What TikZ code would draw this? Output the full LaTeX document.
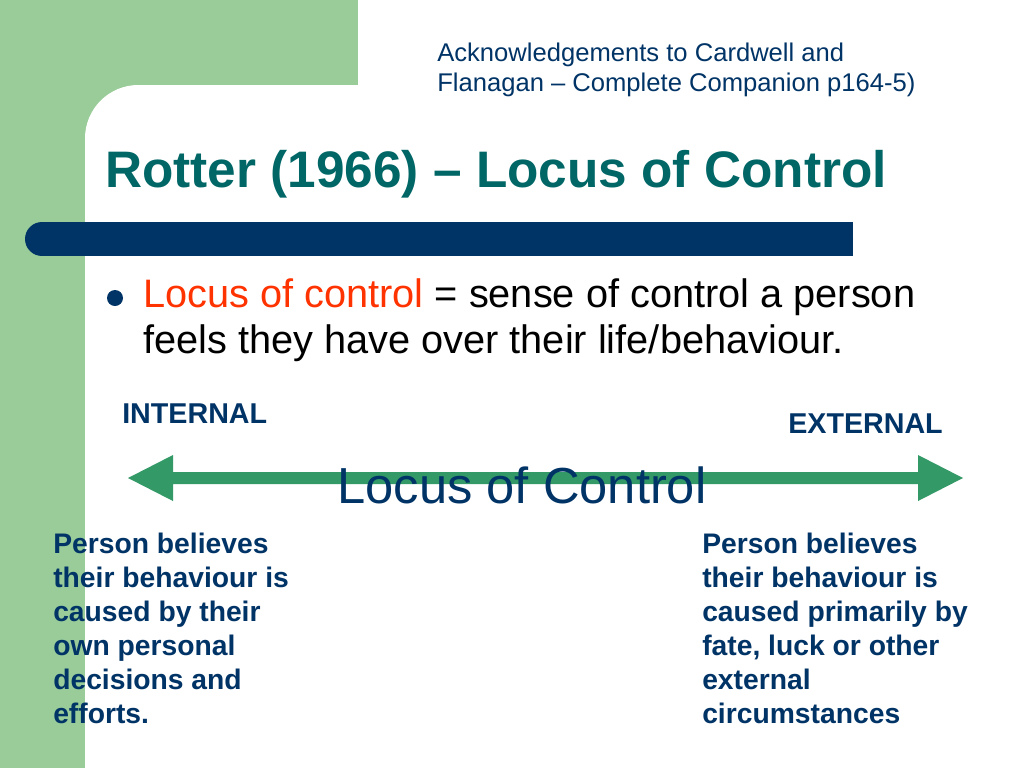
\documentclass[tikz,border=0pt]{standalone}
\usepackage{fontspec}
\setmainfont{Liberation Sans}
\definecolor{gstrip}{HTML}{99CC99}
\definecolor{navy}{HTML}{003366}
\definecolor{teal1}{HTML}{006666}
\definecolor{redo}{HTML}{FF3300}
\definecolor{arrowg}{HTML}{339966}
\begin{document}
\begin{tikzpicture}[x=0.75pt,y=-0.75pt,
  txt/.style={anchor=north west,inner sep=0pt,align=left},
  body/.style={txt,font=\fontsize{21.2}{25.5}\selectfont\bfseries,text=navy},
  lab/.style={txt,font=\fontsize{21.5}{24}\selectfont\bfseries,text=navy}]
\useasboundingbox (0,0) rectangle (1024,768);
\begin{scope}
\clip (0,0) rectangle (1024,768);
\fill[gstrip] (0,0) rectangle (358,768);
\fill[white,rounded corners=40] (85,85) rectangle (1100,820);
\end{scope}
\draw[navy,line width=25.5pt,line cap=round] (42,239) -- (836,239);
\fill[navy] (836,222) rectangle (853,256);
\node[txt,font=\fontsize{19.2}{22.5}\selectfont,text=navy] (ack) at (437,43) {Acknowledgements to Cardwell and\\Flanagan -- Complete Companion p164-5)};
\node[txt,font=\fontsize{38.5}{40}\selectfont\bfseries,text=teal1] (title) at (105,150) {Rotter (1966) -- Locus of Control};
\fill[navy] (115,298) circle (8);
\node[txt,font=\fontsize{29.8}{35}\selectfont] (bul) at (143,278) {\textcolor{redo}{Locus of control} = sense of control a person\\feels they have over their life/behaviour.};
\node[lab] (int) at (122,404) {INTERNAL};
\node[lab] (ext) at (788,414) {EXTERNAL};
\coordinate (al) at (128,478);
\coordinate (ar) at (963,478);
\fill[arrowg] (al) -- ++(45,-23) -- ++(0,17) -- (918,472) -- (918,455) -- (ar) -- (918,501) -- (918,484) -- (173,484) -- (173,501) -- cycle;
\node[anchor=north,inner sep=0pt,font=\fontsize{38}{40}\selectfont,text=navy] (loc) at (522,467) {Locus of Control};
\node[body] (lt) at (53,533) {Person believes\\their behaviour is\\caused by their\\own personal\\decisions and\\efforts.};
\node[body] (rt) at (702,533) {Person believes\\their behaviour is\\caused primarily by\\fate, luck or other\\external\\circumstances};
\end{tikzpicture}
\end{document}
